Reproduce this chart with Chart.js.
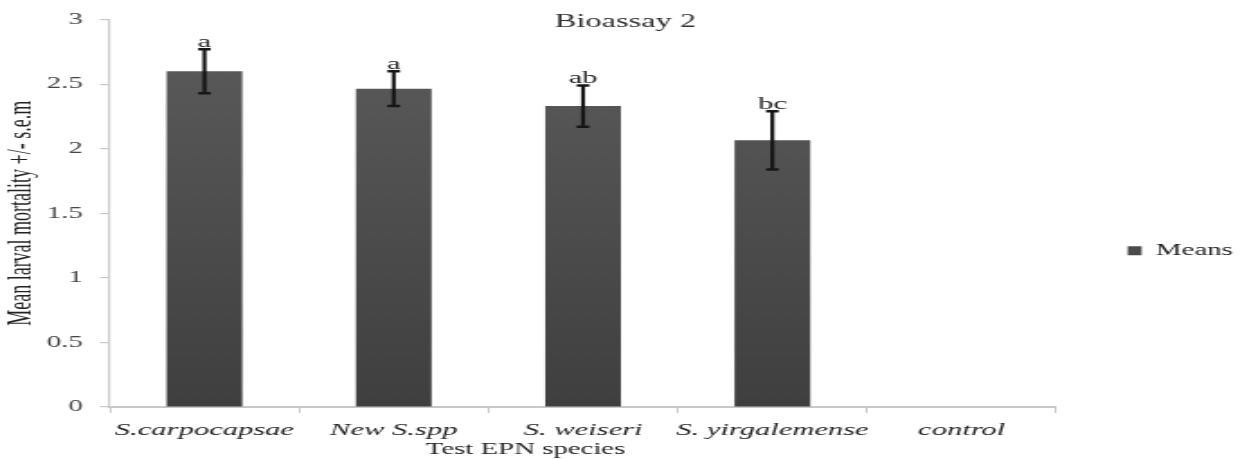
<!DOCTYPE html>
<html lang="en">
<head>
    <meta charset="UTF-8">
    <script src="https://cdn.jsdelivr.net/npm/chart.js@4/dist/chart.umd.min.js"></script>
    <title>Bioassay 2</title>
    <style>
        body { margin: 0; background: #fff; overflow: hidden; }
        /* the original figure is a stretched Excel chart: draw narrow, then stretch it wide */
        #wrap { width: 689px; height: 459px; transform: scaleX(1.7997); transform-origin: 0 0; }
    </style>
</head>
<body>
    <div id="wrap">
        <canvas id="mychart-bar"></canvas>
    </div>
    <script>
        // data
        var species = ['S.carpocapsae', 'New S.spp', 'S. weiseri', 'S. yirgalemense', 'control'];
        var means = [2.60, 2.465, 2.33, 2.065, 0];
        var sem = [0.17, 0.135, 0.16, 0.225, 0];
        var letters = ['a', 'a', 'ab', 'bc', ''];
        var yTicks = [0, 0.5, 1, 1.5, 2, 2.5, 3];

        var serif = '"Liberation Serif", "DejaVu Serif", serif';

        // error bars + letters on top
        var errorBars = {
            id: 'errorBars',
            afterDatasetsDraw: function (chart) {
                var ctx = chart.ctx;
                var x = chart.scales.x, y = chart.scales.y;
                ctx.save();
                for (var i = 0; i < means.length; i++) {
                    var cx = x.getPixelForValue(i);
                    var top = y.getPixelForValue(means[i] + sem[i]);
                    if (sem[i] > 0) {
                        var bot = y.getPixelForValue(means[i] - sem[i]);
                        ctx.strokeStyle = '#161616';
                        ctx.lineWidth = 2.2;
                        ctx.beginPath();
                        ctx.moveTo(cx, top); ctx.lineTo(cx, bot);
                        ctx.stroke();
                        ctx.lineWidth = 2.5;
                        ctx.beginPath();
                        ctx.moveTo(cx - 3.5, top); ctx.lineTo(cx + 3.5, top);
                        ctx.moveTo(cx - 3.5, bot); ctx.lineTo(cx + 3.5, bot);
                        ctx.stroke();
                    }
                    if (letters[i]) {
                        ctx.fillStyle = '#222';
                        ctx.font = '17px ' + serif;
                        ctx.textAlign = 'center';
                        ctx.textBaseline = 'bottom';
                        ctx.fillText(letters[i], cx, top + 2);
                    }
                }
                ctx.restore();
            }
        };

        function barFill(context) {
            var chart = context.chart;
            var area = chart.chartArea;
            if (!area) return '#4a4a4a';
            var g = chart.ctx.createLinearGradient(0, area.top, 0, area.bottom);
            g.addColorStop(0, '#5c5c5c');
            g.addColorStop(1, '#3f3f3f');
            return g;
        }

        var ctx = document.getElementById('mychart-bar');
        var myChart = new Chart(ctx, {
            type: 'bar',
            data: {
                labels: species,
                datasets: [{
                    label: 'Means',
                    data: means,
                    backgroundColor: barFill,
                    borderWidth: 0,
                    categoryPercentage: 1,
                    barPercentage: 0.4
                }]
            },
            options: {
                responsive: true,
                maintainAspectRatio: false,
                animation: false,
                layout: { padding: { left: 0, top: 2, bottom: 0, right: -6 } },
                plugins: {
                    title: {
                        display: true,
                        text: 'Bioassay 2',
                        color: '#333',
                        font: { family: serif, size: 18, weight: 'normal' },
                        padding: { top: 9, bottom: -13 }
                    },
                    legend: {
                        position: 'right',
                        title: { display: true, text: '', padding: { top: 26, bottom: 0 } },
                        labels: {
                            boxWidth: 8,
                            boxHeight: 9,
                            padding: 0,
                            color: '#222',
                            font: { family: serif, size: 16 }
                        }
                    },
                    tooltip: { enabled: false }
                },
                scales: {
                    x: {
                        offset: true,
                        afterFit: function (axis) { axis.height = 52; },
                        grid: {
                            offset: true,
                            drawOnChartArea: false,
                            tickLength: 6,
                            color: '#c8c8c8'
                        },
                        border: { color: '#c8c8c8', width: 2 },
                        ticks: {
                            color: '#222',
                            padding: 7,
                            autoSkip: false,
                            maxRotation: 0,
                            minRotation: 0,
                            font: { family: serif, size: 17, style: 'italic' }
                        },
                        title: {
                            display: true,
                            // trailing spaces pull the centred title a bit left, as in the original
                            text: 'Test EPN species                ',
                            color: '#222',
                            padding: { top: 0, bottom: 0 },
                            font: { family: serif, size: 16 }
                        }
                    },
                    y: {
                        min: 0,
                        max: 3,
                        afterBuildTicks: function (axis) {
                            axis.ticks = yTicks.map(function (v) { return { value: v }; });
                        },
                        afterFit: function (axis) { axis.width = 61; },
                        grid: {
                            drawOnChartArea: false,
                            tickLength: 5.5,
                            color: '#c8c8c8',
                            lineWidth: 1.2
                        },
                        border: { color: '#c8c8c8', width: 1.2 },
                        ticks: {
                            color: '#444',
                            padding: 9.5,
                            font: { family: serif, size: 16 },
                            callback: function (v) { return String(v); }
                        },
                        title: {
                            display: true,
                            text: 'Mean larval mortality +/- s.e.m',
                            color: '#222',
                            padding: { top: 1.4, bottom: 0 },
                            font: { family: serif, size: 18 }
                        }
                    },
                    gap: {
                        position: 'right',
                        display: true,
                        grid: { display: false },
                        border: { display: false },
                        ticks: { display: false },
                        afterFit: function (axis) { axis.width = 39.4; }
                    }
                }
            },
            plugins: [errorBars]
        });
    </script>
</body>
</html>
